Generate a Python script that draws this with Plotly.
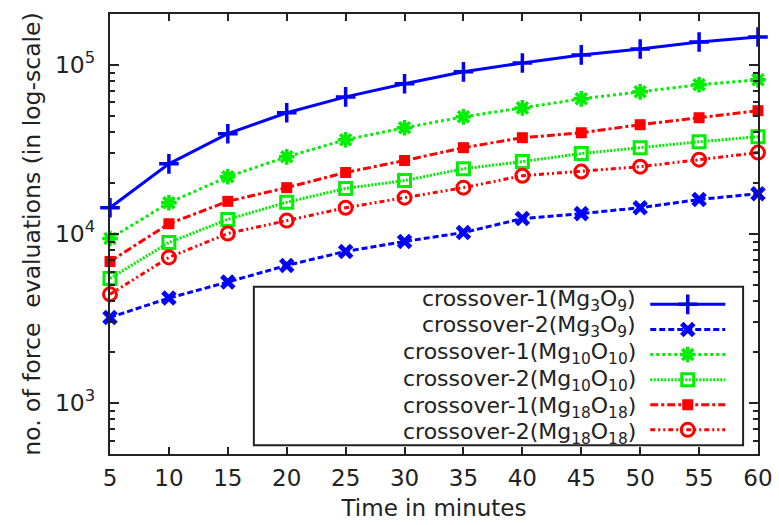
import plotly.graph_objects as go
import math

minutes = [5, 10, 15, 20, 25, 30, 35, 40, 45, 50, 55, 60]

c1_mg3o9 = [14300, 26000, 39200, 52100, 64700, 77300, 91000, 102700, 114600, 124300, 136700, 146300]
c2_mg3o9 = [3210, 4180, 5200, 6520, 7890, 9040, 10200, 12340, 13200, 14300, 16000, 17300]
c1_mg10o10 = [9400, 15300, 21800, 28600, 36100, 42500, 49300, 55700, 63000, 69300, 76300, 81600]
c2_mg10o10 = [5460, 8900, 12200, 15400, 18600, 20700, 24300, 26800, 29900, 32400, 35100, 37600]
c1_mg18o18 = [6880, 11500, 15600, 18800, 23100, 27200, 32400, 37100, 39700, 44300, 48700, 53600]
c2_mg18o18 = [4400, 7270, 10070, 12000, 14300, 16400, 18800, 22100, 23400, 25000, 27500, 30300]

y_tick_vals = [1000, 10000, 100000]
y_tick_text = ["10<sup>3</sup>", "10<sup>4</sup>", "10<sup>5</sup>"]

names = [
    "crossover-1(Mg<sub>3</sub>O<sub>9</sub>)",
    "crossover-2(Mg<sub>3</sub>O<sub>9</sub>)",
    "crossover-1(Mg<sub>10</sub>O<sub>10</sub>)",
    "crossover-2(Mg<sub>10</sub>O<sub>10</sub>)",
    "crossover-1(Mg<sub>18</sub>O<sub>18</sub>)",
    "crossover-2(Mg<sub>18</sub>O<sub>18</sub>)",
]
series = [c1_mg3o9, c2_mg3o9, c1_mg10o10, c2_mg10o10, c1_mg18o18, c2_mg18o18]

styles = [
    dict(color="#0000ff", dash="solid", symbol="cross-thin", msize=14, mlw=3.5),
    dict(color="#0000ff", dash="6px,3px", symbol="x-thin", msize=12, mlw=5),
    dict(color="#00ee00", dash="3px,3px", symbol="asterisk-open", msize=13, mlw=3.5),
    dict(color="#00ee00", dash="2px,1.5px", symbol="square-open", msize=12, mlw=3),
    dict(color="#ff0000", dash="8px,3px,3px,3px", symbol="square", msize=11, mlw=0),
    dict(color="#ff0000", dash="5px,3px,2px,3px,2px,3px", symbol="circle-open", msize=13, mlw=3),
]

fig = go.Figure()
for name, ys, st in zip(names, series, styles):
    marker = dict(symbol=st["symbol"], size=st["msize"], color=st["color"])
    marker["line"] = dict(width=st["mlw"], color=st["color"])
    fig.add_trace(go.Scatter(
        x=minutes, y=ys, name=" ", mode="lines+markers",
        legendgroup=name, hovertext=[name] * len(minutes),
        line=dict(color=st["color"], width=3, dash=st["dash"]),
        marker=marker, cliponaxis=False,
    ))

font_family = "DejaVu Sans, Arial, sans-serif"
minor_vals = [m * 10 ** e for e in range(2, 6) for m in range(2, 10)]

# legend labels, right-aligned, left of the native legend samples
row_step = 0.0609
first_row = 0.350
annotations = []
for i, name in enumerate(names):
    annotations.append(dict(
        text=name, xref="paper", yref="paper",
        x=0.815, xanchor="right", y=first_row - i * row_step, yanchor="middle",
        showarrow=False, font=dict(size=22, family=font_family, color="#222222"),
    ))

fig.update_layout(
    width=779, height=525,
    margin=dict(l=110, r=21, t=14, b=71),
    plot_bgcolor="white", paper_bgcolor="white",
    font=dict(family=font_family, size=23, color="#222222"),
    showlegend=True,
    legend=dict(
        x=0.826, xanchor="left", y=0.380, yanchor="top",
        bgcolor="rgba(0,0,0,0)", borderwidth=0,
        font=dict(size=17, family=font_family, color="#222222"),
        itemwidth=75, tracegroupgap=0,
    ),
    annotations=annotations,
    shapes=[dict(type="rect", xref="paper", yref="paper",
                 x0=0.222, x1=0.977, y0=0.020, y1=0.380,
                 line=dict(color="#222222", width=2), fillcolor="white",
                 layer="below")],
    xaxis=dict(
        range=[5, 60], tickmode="array", tickvals=minutes,
        ticks="inside", ticklen=7, tickwidth=1.5, tickcolor="#222222",
        showline=True, linecolor="#222222", linewidth=2, mirror="ticks",
        showgrid=False, zeroline=False, ticklabelstandoff=2, automargin=False,
        title=dict(text="Time in minutes", standoff=10, font=dict(size=23)),
        tickfont=dict(size=23),
    ),
    yaxis=dict(
        type="log", range=[math.log10(500), math.log10(200000)],
        tickmode="array", tickvals=y_tick_vals, ticktext=y_tick_text,
        ticks="inside", ticklen=9, tickwidth=1.5, tickcolor="#222222",
        minor=dict(ticks="inside", ticklen=5, tickwidth=1.5, tickcolor="#222222",
                   tickmode="array", tickvals=minor_vals, showgrid=False),
        showline=True, linecolor="#222222", linewidth=2, mirror="ticks",
        showgrid=False, zeroline=False, ticklabelstandoff=8, automargin=False,
        title=dict(text="no. of force  evaluations (in log-scale)", standoff=8,
                   font=dict(size=23.5)),
        tickfont=dict(size=23.5),
    ),
)

fig.write_html("out.html")
